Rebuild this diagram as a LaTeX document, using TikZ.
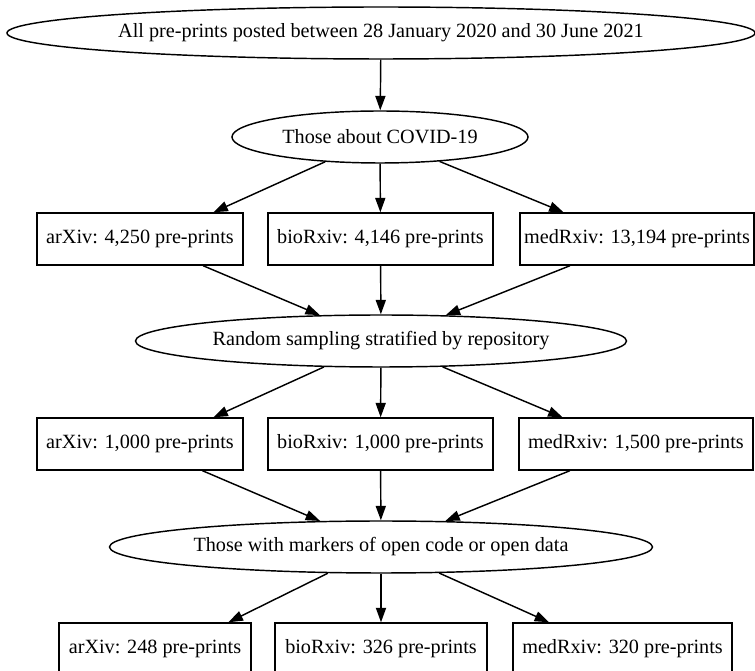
\documentclass[tikz,border=0pt]{standalone}
\usepackage{fontspec}
\setmainfont{Liberation Serif}
\usetikzlibrary{arrows.meta, shapes.geometric}
\tikzset{
  stage node/.style={
    ellipse,
    draw,
    inner sep=0pt,
    minimum height=36pt,
    font=\fontsize{14}{16}\selectfont,
  },
  repo node/.style={
    rectangle,
    draw,
    inner sep=0pt,
    minimum height=36pt,
    font=\fontsize{14}{16}\selectfont,
  },
  flow/.style={
    -{Triangle[length=10pt, width=7pt]},
    line width=1pt,
  },
}

\begin{document}
\begin{tikzpicture}[x=0.6925pt, y=-0.6925pt, line width=1pt]
      \useasboundingbox (0,0) rectangle (755,671);

      \node[stage node, minimum width=518pt] (all)    at (381,33)  {All pre-prints posted between 28 January 2020 and 30 June 2021};
      \node[stage node, minimum width=205pt] (covid)  at (380,137) {Those about COVID-19};

      \node[repo node, minimum width=142.7pt] (arx1) at (140,239)   {arXiv: 4,250 pre-prints};
      \node[repo node, minimum width=155.8pt] (bio1) at (380.5,239) {bioRxiv: 4,146 pre-prints};
      \node[repo node, minimum width=162pt]   (med1) at (637,239)   {medRxiv: 13,194 pre-prints};

      \node[stage node, minimum width=340pt] (sample) at (381,341) {Random sampling stratified by repository};

      \node[repo node, minimum width=142.7pt] (arx2) at (140,444)   {arXiv: 1,000 pre-prints};
      \node[repo node, minimum width=155.8pt] (bio2) at (380.5,444) {bioRxiv: 1,000 pre-prints};
      \node[repo node, minimum width=162pt]   (med2) at (636,444)   {medRxiv: 1,500 pre-prints};

      \node[stage node, minimum width=376pt] (open)   at (381,547) {Those with markers of open code or open data};

      \node[repo node, minimum width=133pt]   (arx3) at (155,649)   {arXiv: 248 pre-prints};
      \node[repo node, minimum width=146.8pt] (bio3) at (381,649)   {bioRxiv: 326 pre-prints};
      \node[repo node, minimum width=151.7pt] (med3) at (622.5,649) {medRxiv: 320 pre-prints};

      \path[flow] (all)   edge (covid);

      \path[flow] (covid) edge (arx1.20);
      \path[flow] (covid) edge (bio1);
      \path[flow] (covid) edge (med1.160);

      \path[flow] (arx1)  edge (sample);
      \path[flow] (bio1)  edge (sample);
      \path[flow] (med1)  edge (sample);

      \path[flow] (sample) edge (arx2.20);
      \path[flow] (sample) edge (bio2);
      \path[flow] (sample) edge (med2.160);

      \path[flow] (arx2)  edge (open);
      \path[flow] (bio2)  edge (open);
      \path[flow] (med2)  edge (open);

      \path[flow] (open)  edge (arx3.20);
      \path[flow] (open)  edge (bio3);
      \path[flow] (open)  edge (med3.160);
    \end{tikzpicture}
\end{document}
